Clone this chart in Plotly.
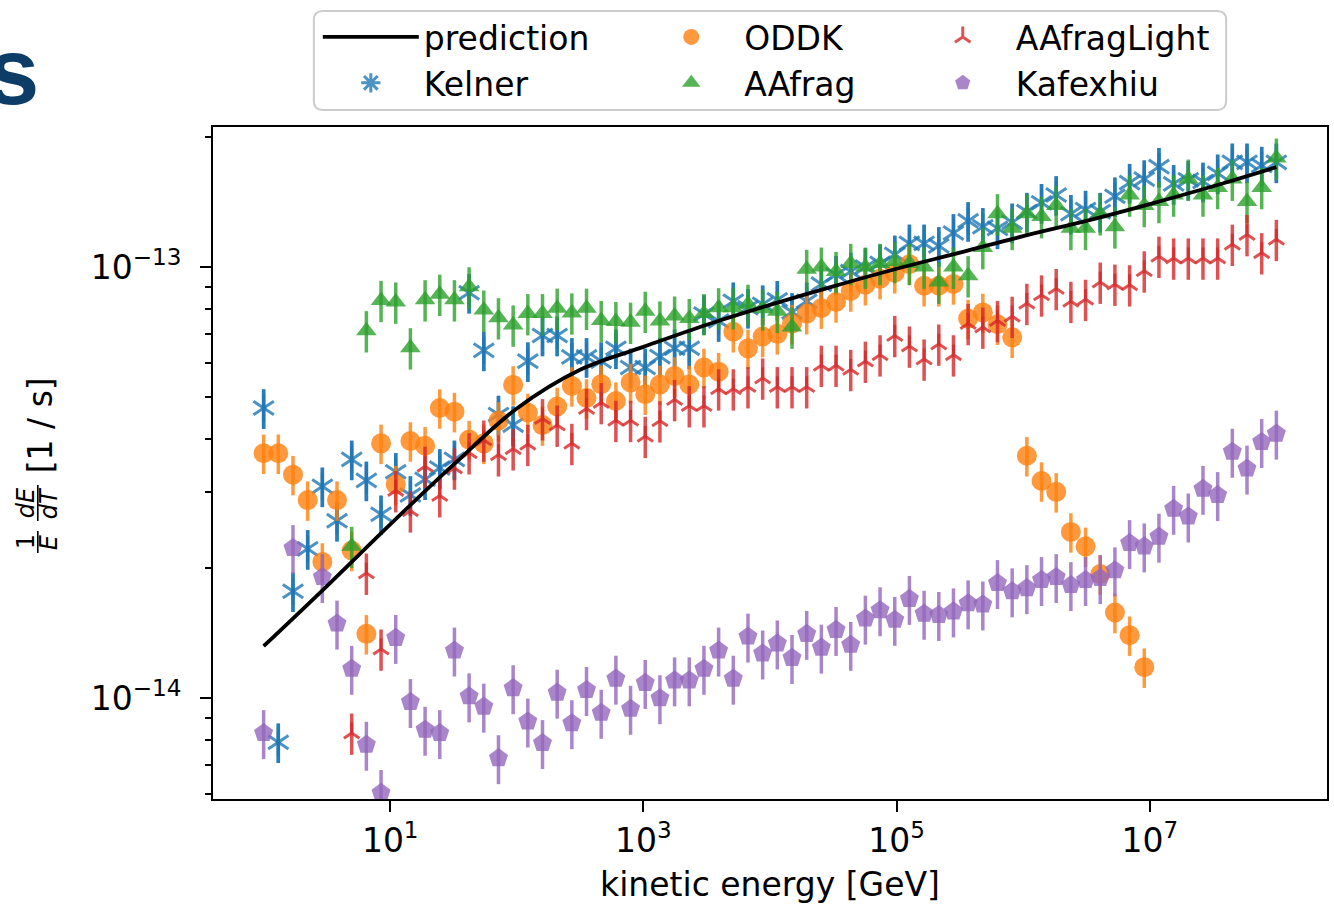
import numpy as np
import plotly.graph_objects as go

# ---------------- data ----------------
# 70 kinetic-energy bins, evenly spaced in log10 from 1 GeV to 1e8 GeV
energy = np.logspace(0, 8, 70)
UNIT = 1e-14  # values below are in units of 1e-14 1/s

kelner = [4.71, 0.79, 1.77, 2.22, 3.10, 2.58, 3.58, 3.20, 2.67, 3.35,
          2.96, 3.22, 3.42, 3.58, 8.72, 6.41, 4.55, 4.30, 6.05, 6.94,
          6.94, 6.19, 6.19, 6.05, 6.48, 5.85, 5.85, 6.20, 6.48, 6.48,
          7.78, 7.50, 8.33, 8.05, 8.20, 8.40, 7.87, 8.33, 9.13, 9.60,
          9.77, 10.0, 10.2, 10.7, 11.35, 11.35, 11.2, 12.0, 12.8, 12.4,
          12.3, 12.7, 13.45, 14.1, 14.7, 13.3, 13.6, 13.45, 14.6, 15.7,
          16.0, 17.1, 15.6, 15.95, 15.8, 16.5, 17.5, 17.5, 17.2, 17.5]

oddk = [3.70, 3.70, 3.30, 2.88, 2.07, 2.88, 2.20, 1.41, 3.90, 3.13,
        3.95, 3.85, 4.71, 4.62, 3.98, 3.90, 4.40, 5.33, 4.60, 4.30,
        4.75, 5.30, 4.97, 5.35, 4.89, 5.40, 5.07, 5.34, 5.59, 5.34,
        5.85, 5.72, 7.08, 6.48, 6.90, 7.00, 7.40, 7.80, 8.03, 8.30,
        8.80, 9.10, 9.40, 9.70, 10.15, 9.05, 9.05, 9.14, 7.60, 7.85,
        7.37, 6.87, 3.65, 3.19, 3.01, 2.43, 2.25, 1.94, 1.58, 1.40,
        1.18, None, None, None, None, None, None, None, None, None]

aafrag = [None, None, None, None, None, None, 2.25, 7.12, 8.37, 8.30,
          6.50, 8.40, 8.65, 8.40, 9.00, 7.95, 7.63, 7.34, 7.80, 7.80,
          8.03, 7.83, 8.03, 7.52, 7.48, 7.45, 7.90, 7.50, 7.70, 7.60,
          7.80, 8.05, 8.05, 8.20, 8.00, 7.90, 7.26, 9.88, 10.0, 9.77,
          10.2, 10.0, 10.2, 10.3, 10.2, 10.0, 9.23, 10.0, 9.55, 11.1,
          13.3, 12.3, 13.3, 13.1, 13.9, 12.3, 12.3, 13.3, 12.4, 14.7,
          13.9, 14.2, 14.7, 16.0, 14.7, 15.3, 16.0, 14.2, 15.3, 17.9]

aafrag_light = [None, None, None, None, None, None, 0.83, 1.95, 1.30, 3.03,
                2.72, 3.45, 2.95, 3.42, 3.71, 3.97, 3.67, 3.79, 3.88, 4.45,
                4.30, 3.90, 4.70, 4.85, 4.41, 4.41, 4.05, 4.40, 4.93, 4.77,
                4.77, 5.22, 5.22, 5.28, 5.53, 5.28, 5.28, 5.28, 5.92, 5.92,
                5.79, 6.05, 6.26, 6.94, 6.56, 6.12, 6.63, 6.26, 7.40, 7.26,
                7.52, 7.69, 8.24, 8.62, 8.92, 8.33, 8.42, 9.23, 9.13, 9.10,
                9.80, 10.6, 10.5, 10.5, 10.5, 10.5, 11.3, 11.9, 10.8, 11.6]

kafexhiu = [0.83, None, 2.23, None, 1.91, 1.49, 1.17, 0.78, 0.603, 1.38,
            0.98, 0.845, 0.83, 1.29, 1.01, 0.956, 0.726, 1.055, 0.883, 0.787,
            1.03, 0.875, 1.045, 0.925, 1.11, 0.945, 1.085, 1.00, 1.10, 1.10,
            1.17, 1.29, 1.11, 1.39, 1.27, 1.34, 1.24, 1.41, 1.31, 1.44,
            1.33, 1.53, 1.60, 1.52, 1.70, 1.57, 1.56, 1.59, 1.66, 1.65,
            1.85, 1.77, 1.80, 1.88, 1.91, 1.83, 1.88, 1.90, 1.98, 2.29,
            2.25, 2.37, 2.75, 2.64, 3.06, 2.96, 3.73, 3.41, 3.93, 4.11]

# prediction curve sampled every half decade
pred_energy = np.logspace(0, 8, 17)
prediction = [1.32, 1.82, 2.53, 3.48, 4.70, 5.78, 6.53, 7.35, 8.17,
              9.02, 9.91, 10.8, 11.8, 12.8, 14.0, 15.4, 17.06]

rel_err = {"Kelner": 0.105, "ODDK": 0.105, "AAfrag": 0.11,
           "AAfragLight": 0.11, "Kafexhiu": 0.13}

x_tick_vals = [1e1, 1e3, 1e5, 1e7]
x_tick_text = ["10<sup>1</sup>", "10<sup>3</sup>", "10<sup>5</sup>", "10<sup>7</sup>"]
y_tick_vals = [1e-14, 1e-13]
y_tick_text = ["10<sup>\u221214</sup>", "10<sup>\u221213</sup>"]
y_minor_vals = [6e-15, 7e-15, 8e-15, 9e-15] + [k * 1e-14 for k in range(2, 10)] + [2e-13]

# ---------------- layout geometry (pixels) ----------------
W, H = 1334, 908
PL, PR, PT, PB = 213, 1329, 127, 799
FONT = "DejaVu Sans"
FS = 33


def px(x):
    return (x - PL) / (PR - PL)


def py(y):
    return (PB - y) / (PB - PT)


def rgba(c, a=0.8):
    return "rgba(%d,%d,%d,%.2f)" % (c[0], c[1], c[2], a)


BLUE = (31, 119, 180)
ORANGE = (255, 127, 14)
GREEN = (44, 160, 44)
RED = (214, 39, 40)
PURPLE = (148, 103, 189)


def scaled(vals):
    return [None if v is None else v * UNIT for v in vals]


def errs(vals, r):
    return [None if v is None else v * UNIT * r for v in vals]


fig = go.Figure()


def add_series(name, vals, color, symbol, size, legend, rank, line_w=0,
               showlegend=True):
    marker = dict(symbol=symbol, size=size, color=rgba(color))
    if line_w:
        marker["line"] = dict(width=line_w, color=rgba(color))
    else:
        marker["line"] = dict(width=0)
    fig.add_trace(go.Scatter(
        x=energy, y=scaled(vals), mode="markers", name=name,
        marker=marker, legend=legend, legendrank=rank,
        showlegend=showlegend,
        error_y=dict(type="data", array=errs(vals, rel_err[name]),
                     color=rgba(color), thickness=3.5, width=0),
    ))


# Kelner: 6-armed asterisk = y-up + y-down overlay
add_series("Kelner", kelner, BLUE, "y-up", 17, "legend", 2, line_w=3, showlegend=False)
add_series("Kelner", kelner, BLUE, "y-down", 17, "legend", 2, line_w=3, showlegend=False)
fig.add_trace(go.Scatter(x=[None], y=[None], mode="markers", name="Kelner",
                         marker=dict(symbol="asterisk-open", size=17, color=rgba(BLUE),
                                     line=dict(width=3, color=rgba(BLUE))),
                         legend="legend", legendrank=2))
add_series("ODDK", oddk, ORANGE, "circle", 20, "legend2", 1)
add_series("AAfrag", aafrag, GREEN, "triangle-up", 18, "legend2", 2)
add_series("AAfragLight", aafrag_light, RED, "y-up", 13, "legend3", 1, line_w=3)
add_series("Kafexhiu", kafexhiu, PURPLE, "pentagon", 20, "legend3", 2)

fig.add_trace(go.Scatter(
    x=pred_energy, y=[v * UNIT for v in prediction], mode="lines",
    name="prediction", line=dict(color="black", width=3.8, shape="spline"),
    legend="legend", legendrank=1,
))

axis_common = dict(
    type="log", showgrid=False, zeroline=False, showline=True, mirror=True,
    linecolor="black", linewidth=2, ticks="outside", ticklen=11, tickwidth=2,
    tickcolor="black", tickfont=dict(family=FONT, size=FS, color="black"),
)

ITEMW = 96
leg_common = dict(bgcolor="rgba(0,0,0,0)", borderwidth=0, xanchor="left",
                  yanchor="top", itemwidth=ITEMW, tracegroupgap=0,
                  font=dict(family=FONT, size=FS, color="black"))


def rounded_box(x0, y0, x1, y1, r):
    pts = [("M", [(x0 + r, y0)]), ("L", [(x1 - r, y0)]), ("Q", [(x1, y0), (x1, y0 + r)]),
           ("L", [(x1, y1 - r)]), ("Q", [(x1, y1), (x1 - r, y1)]),
           ("L", [(x0 + r, y1)]), ("Q", [(x0, y1), (x0, y1 - r)]),
           ("L", [(x0, y0 + r)]), ("Q", [(x0, y0), (x0 + r, y0)])]
    s = ""
    for cmd, ps in pts:
        s += cmd + " ".join("%.5f,%.5f" % (px(a), py(b)) for a, b in ps) + " "
    return s + "Z"


def label(text, x, y, size, angle=-90, **kw):
    d = dict(text=text, x=px(x), y=py(y), xref="paper", yref="paper",
             xanchor="center", yanchor="middle", textangle=angle, showarrow=False,
             font=dict(family=FONT, size=size, color="black"))
    d.update(kw)
    return d


annotations = [
    dict(text="<b>s</b>", x=px(41), y=py(72), xref="paper", yref="paper",
         xanchor="right", yanchor="middle", showarrow=False,
         font=dict(family="Liberation Sans", size=94, color="#0d3c67")),
    label("[1 / s]", 40, 425, FS),
    label("1", 26, 542, 24),
    label("<i>E</i>", 49, 542, 24),
    label("<i>dE</i>", 26, 503, 24),
    label("<i>dT</i>", 49, 503, 24),
]

shapes = [
    dict(type="path", xref="paper", yref="paper", path=rounded_box(314, 11, 1228, 110, 9),
         line=dict(color="#cccccc", width=2), fillcolor="rgba(255,255,255,0.8)", layer="below"),
    dict(type="line", xref="paper", yref="paper", x0=px(37.5), x1=px(37.5), y0=py(531), y1=py(553),
         line=dict(color="black", width=1.6)),
    dict(type="line", xref="paper", yref="paper", x0=px(37.5), x1=px(37.5), y0=py(485), y1=py(521),
         line=dict(color="black", width=1.6)),
]

fig.update_layout(
    width=W, height=H, autosize=False,
    margin=dict(l=PL, r=W - PR, t=PT, b=H - PB, pad=0),
    paper_bgcolor="white", plot_bgcolor="white",
    font=dict(family=FONT, size=FS, color="black"),
    xaxis=dict(axis_common, range=[-0.4, 8.4], tickvals=x_tick_vals, ticktext=x_tick_text,
               title=dict(text="kinetic energy [GeV]", standoff=14,
                          font=dict(family=FONT, size=FS, color="black"))),
    yaxis=dict(axis_common, range=[-14.234, -12.675], tickvals=y_tick_vals, ticktext=y_tick_text,
               ticklabelstandoff=12,
               minor=dict(tickvals=y_minor_vals, ticks="outside", ticklen=6, tickwidth=1.6,
                          tickcolor="black", showgrid=False)),
    legend=dict(leg_common, x=px(318), y=py(9)),
    legend2=dict(leg_common, x=px(639), y=py(9)),
    legend3=dict(leg_common, x=px(911), y=py(9)),
    annotations=annotations,
    shapes=shapes,
    showlegend=True,
)

fig.write_html("out.html")
